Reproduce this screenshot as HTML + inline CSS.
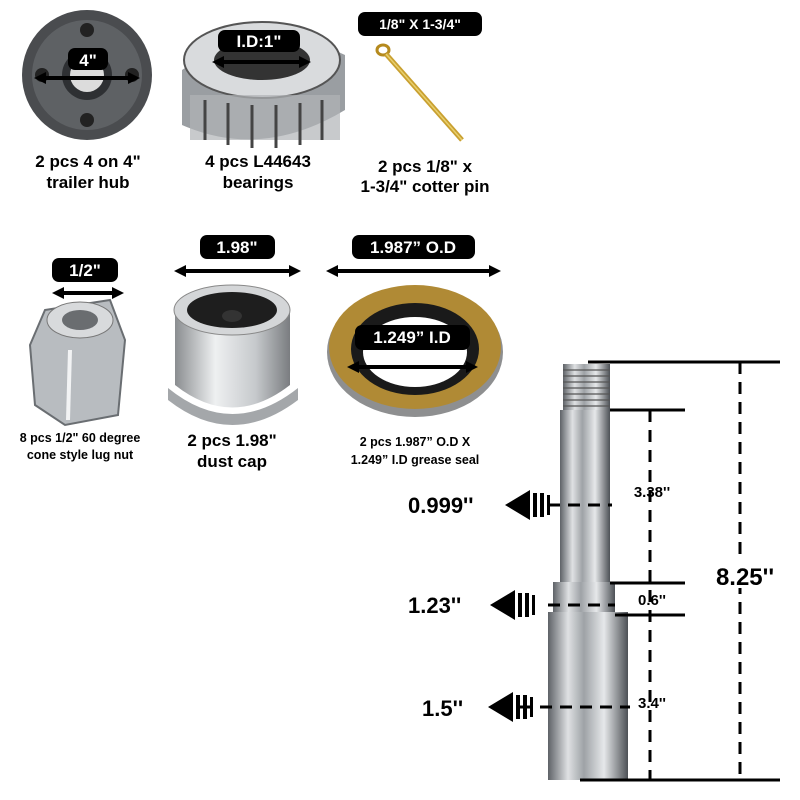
<!DOCTYPE html>
<html><head><meta charset="utf-8"><style>
html,body{margin:0;padding:0;background:#fff;width:800px;height:800px;overflow:hidden}
text{font-family:"Liberation Sans",sans-serif;font-weight:bold}
</style></head><body>
<svg width="800" height="800" viewBox="0 0 800 800" xmlns="http://www.w3.org/2000/svg">
<defs>
<linearGradient id="steel" x1="0" x2="1" y1="0" y2="0">
<stop offset="0" stop-color="#5e6267"/><stop offset="0.25" stop-color="#dfe1e3"/><stop offset="0.45" stop-color="#9ea2a6"/><stop offset="0.7" stop-color="#e6e8ea"/><stop offset="1" stop-color="#4d5156"/></linearGradient>
<linearGradient id="cap" x1="0" x2="1"><stop offset="0" stop-color="#8a8d90"/><stop offset="0.35" stop-color="#eef0f1"/><stop offset="0.7" stop-color="#c6c9cc"/><stop offset="1" stop-color="#7a7d80"/></linearGradient>
<marker id="ah" markerUnits="userSpaceOnUse" markerWidth="12" markerHeight="12" refX="6" refY="6" orient="auto-start-reverse"><path d="M0,0 L12,6 L0,12 Z" fill="#000"/></marker>
</defs>

<!-- Hub -->
<circle cx="87" cy="75" r="65" fill="#4a4c4f"/>
<circle cx="87" cy="75" r="55" fill="#5e6164"/>
<circle cx="87" cy="75" r="25" fill="#2e3033"/>
<circle cx="87" cy="75" r="17" fill="#dcdcdc"/>
<circle cx="42" cy="75" r="7" fill="#222"/><circle cx="132" cy="75" r="7" fill="#222"/>
<circle cx="87" cy="30" r="7" fill="#222"/><circle cx="87" cy="120" r="7" fill="#222"/>
<line x1="40" y1="78" x2="134" y2="78" stroke="#000" stroke-width="4" marker-start="url(#ah)" marker-end="url(#ah)"/>
<rect x="68" y="48" width="40" height="22" rx="7" fill="#000"/>
<text x="88" y="66" font-size="17" fill="#fff" text-anchor="middle">4"</text>
<text x="88" y="167" font-size="17" text-anchor="middle">2 pcs 4 on 4"</text>
<text x="88" y="188" font-size="17" text-anchor="middle">trailer hub</text>

<!-- Bearing -->
<path d="M182,70 Q262,15 345,55 L345,110 Q262,160 182,125 Z" fill="#9a9ea2"/>
<ellipse cx="262" cy="60" rx="78" ry="38" fill="#d9dbdd" stroke="#555" stroke-width="2"/>
<ellipse cx="262" cy="60" rx="48" ry="20" fill="#333"/>
<rect x="190" y="95" width="150" height="45" fill="#b0b3b6" opacity="0.7"/>
<g stroke="#444" stroke-width="3"><line x1="205" y1="100" x2="205" y2="140"/><line x1="228" y1="103" x2="228" y2="145"/><line x1="252" y1="105" x2="252" y2="148"/><line x1="276" y1="105" x2="276" y2="148"/><line x1="300" y1="103" x2="300" y2="145"/><line x1="322" y1="100" x2="322" y2="140"/></g>
<line x1="218" y1="62" x2="305" y2="62" stroke="#000" stroke-width="4" marker-start="url(#ah)" marker-end="url(#ah)"/>
<rect x="218" y="30" width="82" height="22" rx="7" fill="#000"/>
<text x="259" y="47" font-size="17" fill="#fff" text-anchor="middle">I.D:1"</text>
<text x="258" y="167" font-size="17" text-anchor="middle">4 pcs L44643</text>
<text x="258" y="188" font-size="17" text-anchor="middle">bearings</text>

<!-- Cotter pin -->
<rect x="358" y="12" width="124" height="24" rx="7" fill="#000"/>
<text x="420" y="29" font-size="14" fill="#fff" text-anchor="middle">1/8" X 1-3/4"</text>
<ellipse cx="383" cy="50" rx="6" ry="5" fill="none" stroke="#b58a1e" stroke-width="3"/>
<line x1="386" y1="54" x2="462" y2="140" stroke="#c9a030" stroke-width="5"/>
<line x1="386" y1="54" x2="462" y2="140" stroke="#e8cf6e" stroke-width="1.5"/>
<text x="425" y="172" font-size="17" text-anchor="middle">2 pcs 1/8" x</text>
<text x="425" y="192" font-size="17" text-anchor="middle">1-3/4" cotter pin</text>

<!-- Lug nut -->
<rect x="52" y="258" width="66" height="24" rx="7" fill="#000"/>
<text x="85" y="276" font-size="17" fill="#fff" text-anchor="middle">1/2"</text>
<line x1="58" y1="293" x2="118" y2="293" stroke="#000" stroke-width="4" marker-start="url(#ah)" marker-end="url(#ah)"/>
<path d="M45,310 L110,300 L125,340 L118,415 L65,425 L35,405 L30,345 Z" fill="#b8bcc0" stroke="#6a6e72" stroke-width="2"/>
<ellipse cx="80" cy="320" rx="33" ry="18" fill="#d8dadc" stroke="#777"/>
<ellipse cx="80" cy="320" rx="18" ry="10" fill="#6a6d70"/>
<line x1="70" y1="350" x2="68" y2="420" stroke="#f2f3f4" stroke-width="4"/>
<text x="80" y="442" font-size="12.5" text-anchor="middle">8 pcs 1/2" 60 degree</text>
<text x="80" y="459" font-size="12.5" text-anchor="middle">cone style lug nut</text>

<!-- Dust cap -->
<rect x="200" y="235" width="75" height="24" rx="7" fill="#000"/>
<text x="237" y="253" font-size="17" fill="#fff" text-anchor="middle">1.98"</text>
<line x1="180" y1="271" x2="295" y2="271" stroke="#000" stroke-width="4" marker-start="url(#ah)" marker-end="url(#ah)"/>
<path d="M175,310 L175,385 Q232,430 290,385 L290,310 Z" fill="url(#cap)"/>
<path d="M168,388 Q232,440 298,388 L298,400 Q232,450 168,400 Z" fill="#a4a7aa"/>
<ellipse cx="232" cy="310" rx="58" ry="25" fill="#d4d6d8" stroke="#888"/>
<ellipse cx="232" cy="310" rx="45" ry="18" fill="#1e1e1e"/>
<ellipse cx="232" cy="316" rx="10" ry="6" fill="#333"/>
<text x="232" y="446" font-size="17" text-anchor="middle">2 pcs 1.98"</text>
<text x="232" y="467" font-size="17" text-anchor="middle">dust cap</text>

<!-- Seal -->
<rect x="352" y="235" width="123" height="24" rx="7" fill="#000"/>
<text x="413" y="253" font-size="17" fill="#fff" text-anchor="middle">1.987” O.D</text>
<line x1="332" y1="271" x2="495" y2="271" stroke="#000" stroke-width="4" marker-start="url(#ah)" marker-end="url(#ah)"/>
<ellipse cx="415" cy="352" rx="88" ry="65" fill="#8e8f90"/>
<ellipse cx="415" cy="347" rx="86" ry="62" fill="#b08a35"/>
<ellipse cx="415" cy="349" rx="64" ry="46" fill="#1a1a1a"/>
<ellipse cx="415" cy="352" rx="52" ry="35" fill="#fff"/>
<rect x="355" y="325" width="115" height="25" rx="7" fill="#000"/>
<text x="412" y="343" font-size="17" fill="#fff" text-anchor="middle">1.249” I.D</text>
<line x1="353" y1="367" x2="472" y2="367" stroke="#000" stroke-width="4" marker-start="url(#ah)" marker-end="url(#ah)"/>
<text x="415" y="446" font-size="12.5" text-anchor="middle">2 pcs 1.987” O.D X</text>
<text x="415" y="464" font-size="12.5" text-anchor="middle">1.249” I.D grease seal</text>

<!-- Spindle -->
<rect x="563" y="364" width="47" height="46" fill="url(#steel)"/>
<g stroke="#555" stroke-width="1.2"><line x1="563" y1="370" x2="610" y2="370"/><line x1="563" y1="376" x2="610" y2="376"/><line x1="563" y1="382" x2="610" y2="382"/><line x1="563" y1="388" x2="610" y2="388"/><line x1="563" y1="394" x2="610" y2="394"/><line x1="563" y1="400" x2="610" y2="400"/><line x1="563" y1="406" x2="610" y2="406"/></g>
<rect x="560" y="410" width="50" height="172" fill="url(#steel)"/>
<rect x="553" y="582" width="62" height="30" fill="url(#steel)"/>
<rect x="548" y="612" width="80" height="168" fill="url(#steel)"/>
<g stroke="#000" stroke-width="3">
<line x1="588" y1="362" x2="780" y2="362"/>
<line x1="610" y1="410" x2="685" y2="410"/>
<line x1="610" y1="583" x2="685" y2="583"/>
<line x1="615" y1="615" x2="685" y2="615"/>
<line x1="580" y1="780" x2="780" y2="780"/>
</g>
<g stroke="#000" stroke-width="3" stroke-dasharray="12,8">
<line x1="740" y1="362" x2="740" y2="780"/>
<line x1="650" y1="410" x2="650" y2="780"/>
<line x1="548" y1="505" x2="612" y2="505"/>
<line x1="548" y1="605" x2="615" y2="605"/>
<line x1="520" y1="707" x2="630" y2="707"/>
</g>
<rect x="705" y="560" width="80" height="28" fill="#fff"/>
<text x="745" y="585" font-size="24" text-anchor="middle">8.25''</text>
<text x="652" y="497" font-size="15" text-anchor="middle" font-weight="normal">3.38''</text>
<text x="652" y="605" font-size="15" text-anchor="middle" font-weight="normal">0.6''</text>
<text x="652" y="708" font-size="15" text-anchor="middle" font-weight="normal">3.4''</text>
<text x="408" y="513" font-size="22">0.999''</text>
<text x="408" y="613" font-size="22">1.23''</text>
<text x="422" y="716" font-size="22">1.5''</text>
<g fill="#000">
<path d="M505,505 L530,490 L530,520 Z"/><rect x="533" y="493" width="4" height="24"/><rect x="540" y="493" width="4" height="24"/><rect x="547" y="495" width="3" height="20"/>
<path d="M490,605 L515,590 L515,620 Z"/><rect x="518" y="593" width="4" height="24"/><rect x="525" y="593" width="4" height="24"/><rect x="532" y="595" width="3" height="20"/>
<path d="M488,707 L513,692 L513,722 Z"/><rect x="516" y="695" width="4" height="24"/><rect x="523" y="695" width="4" height="24"/><rect x="530" y="697" width="3" height="20"/>
</g>
</svg>
</body></html>
